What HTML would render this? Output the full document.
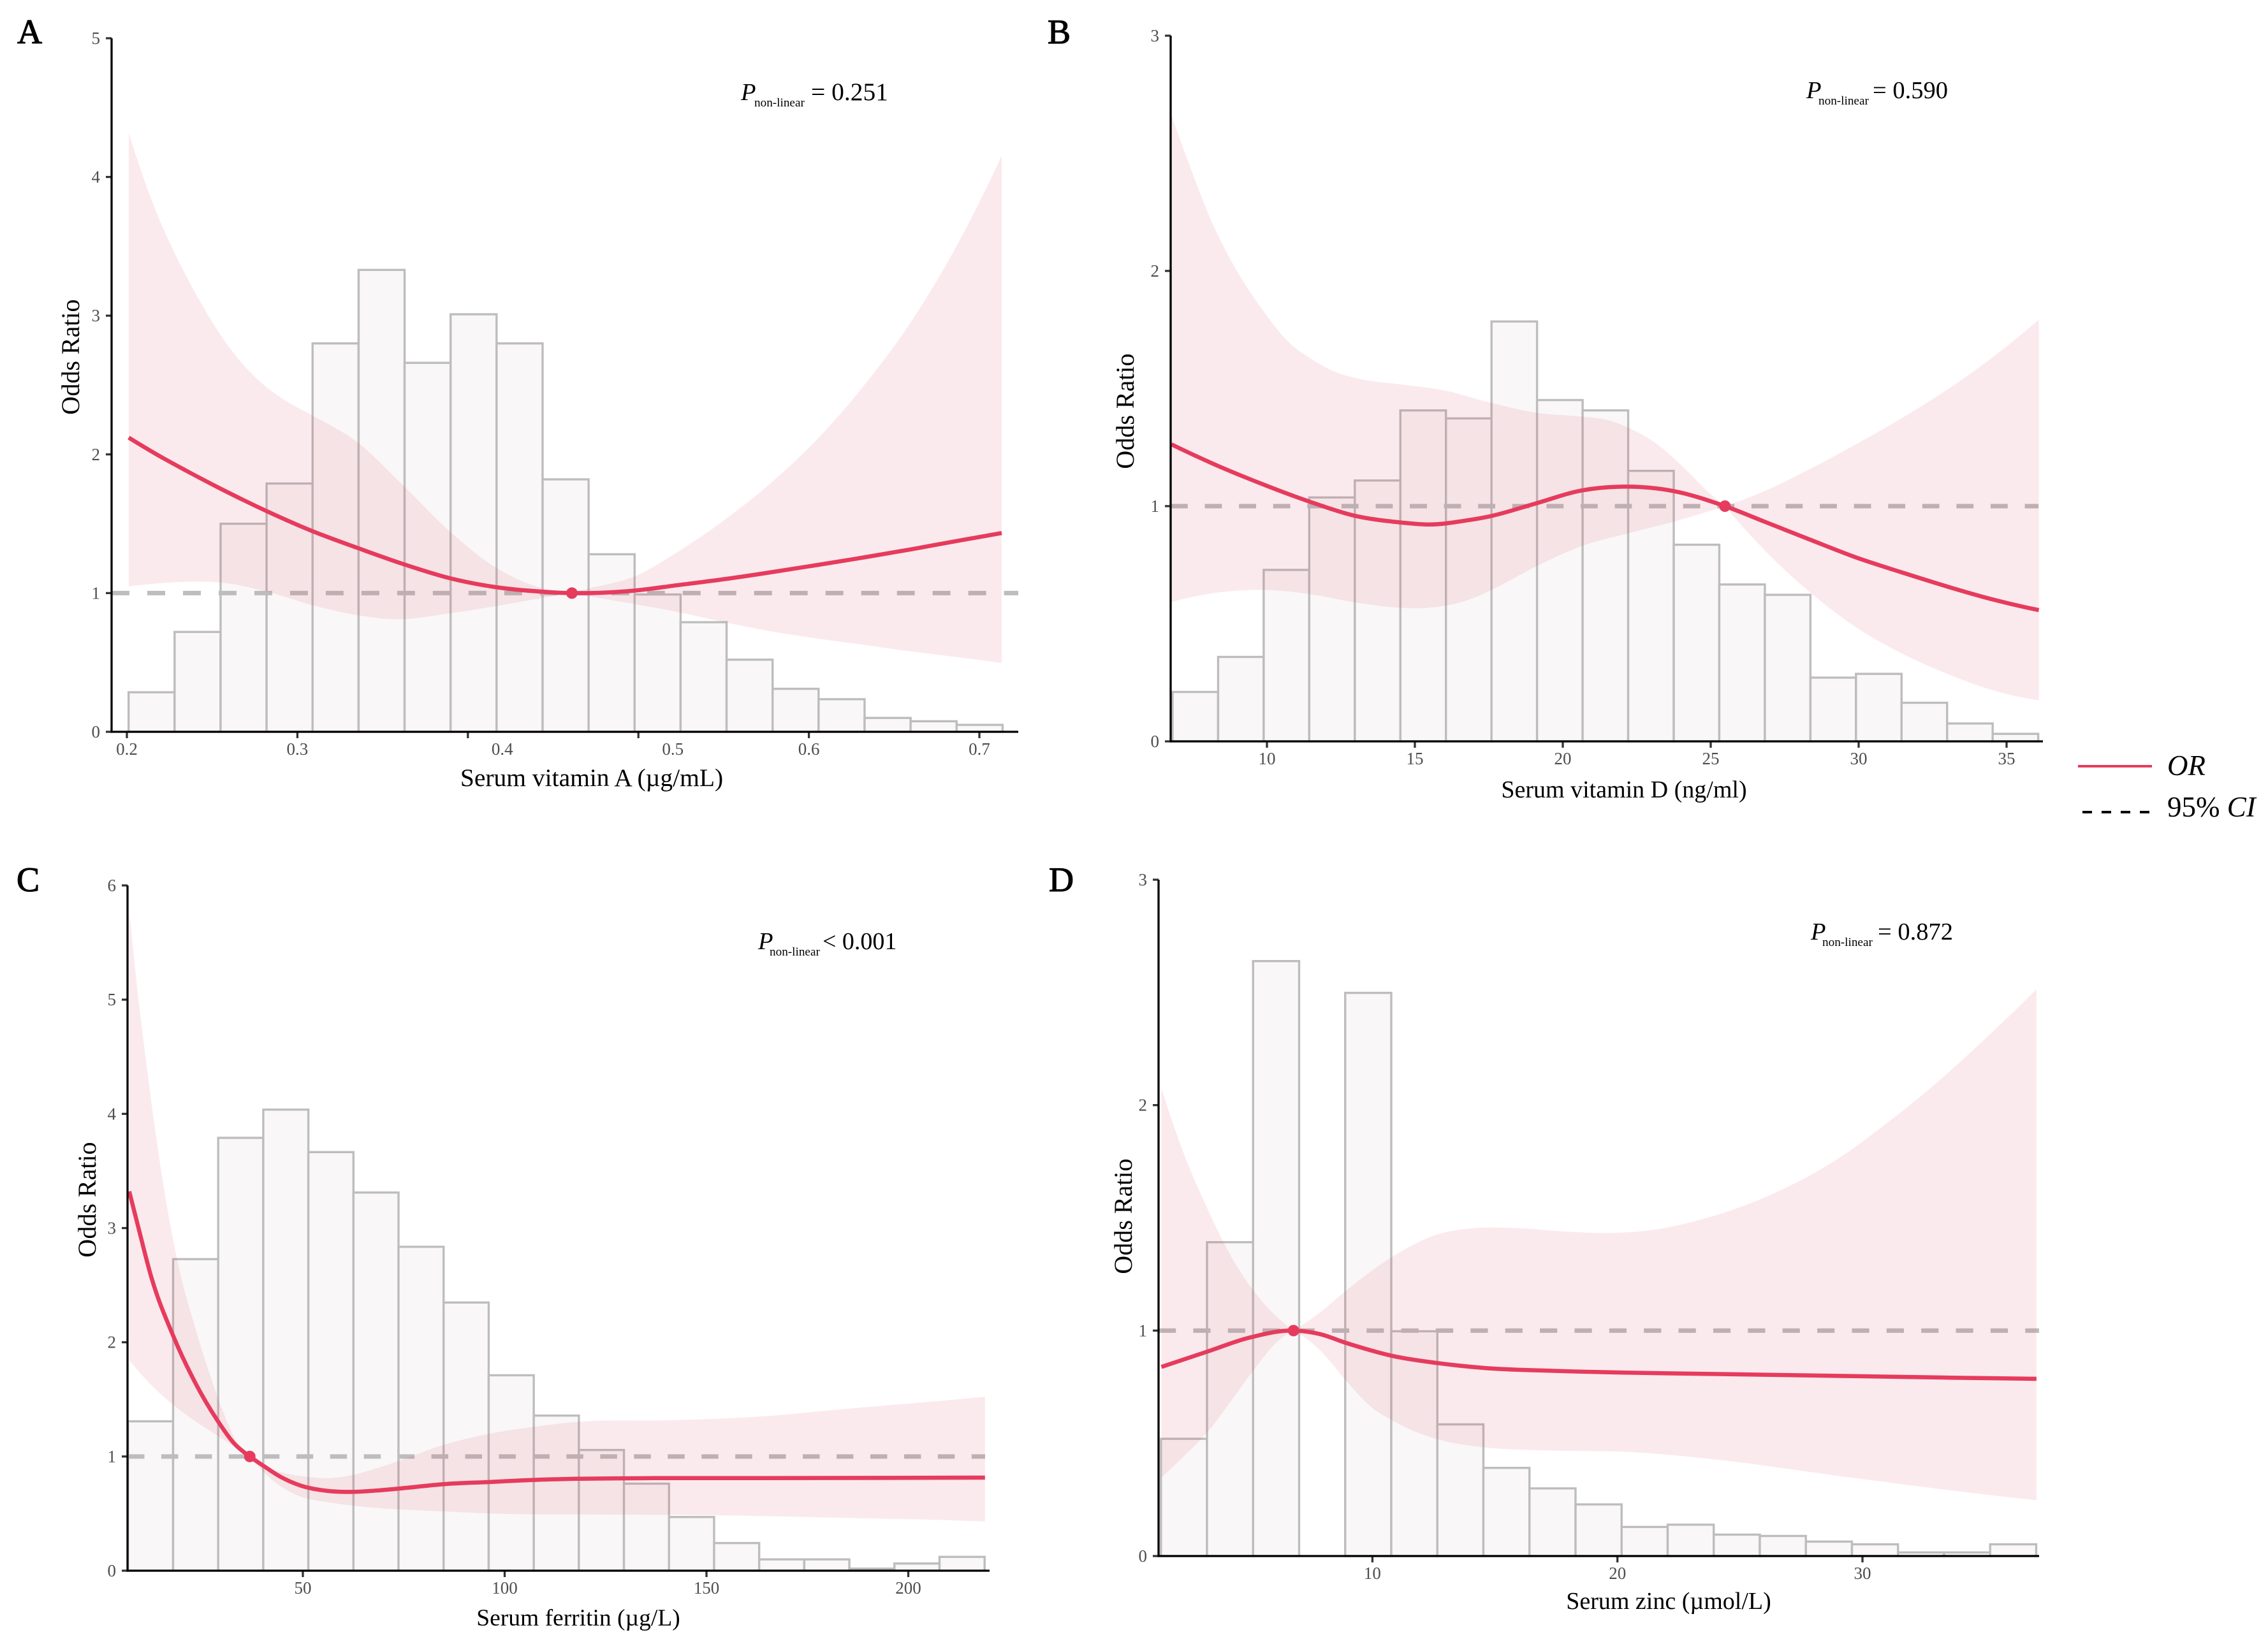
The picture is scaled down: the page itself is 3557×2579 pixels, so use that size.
<!DOCTYPE html>
<html lang="en">
<head>
<meta charset="utf-8">
<title>Restricted cubic spline odds ratio panels</title>
<style>
html,body{margin:0;padding:0;background:#fff;}
svg{display:block;}
text{font-family:"Liberation Serif","Times New Roman",serif;}
.title{fill:#000;text-anchor:middle;}
.ylab{font-size:40px;fill:#000;text-anchor:middle;}
.letter{font-size:54px;fill:#000;stroke:#000;stroke-width:1.2px;}
.p{font-size:38.5px;fill:#000;}
.sub{font-size:19.2px;fill:#000;}
.leg{font-size:45px;fill:#000;}
</style>
</head>
<body>
<svg id="figure" width="3557" height="2579" viewBox="0 0 3557 2579" xmlns="http://www.w3.org/2000/svg">
  <rect x="0" y="0" width="3557" height="2579" fill="#fff"/>
  <g id="panel-a"></g>
  <g id="panel-b"></g>
  <g id="panel-c"></g>
  <g id="panel-d"></g>

  <text class="letter" x="27" y="68">A</text>
  <text class="letter" x="1643" y="68">B</text>
  <text class="letter" x="26" y="1398">C</text>
  <text class="letter" x="1645" y="1398">D</text>

  <text class="title" font-size="39.5" x="928" y="1233">Serum vitamin A (µg/mL)</text>
  <text class="title" font-size="38" x="2547" y="1251">Serum vitamin D (ng/ml)</text>
  <text class="title" font-size="37.5" x="907" y="2550">Serum ferritin (µg/L)</text>
  <text class="title" font-size="38" x="2617" y="2524">Serum zinc (µmol/L)</text>

  <text class="ylab" transform="translate(124,560) rotate(-90)">Odds Ratio</text>
  <text class="ylab" transform="translate(1778,645) rotate(-90)">Odds Ratio</text>
  <text class="ylab" transform="translate(150,1882) rotate(-90)">Odds Ratio</text>
  <text class="ylab" transform="translate(1775,1908) rotate(-90)">Odds Ratio</text>

  <g>
    <text class="p" x="1162" y="157" font-style="italic">P</text>
    <text class="sub" x="1183" y="167">non-linear</text>
    <text class="p" x="1272" y="157" style="font-size:39.5px">= 0.251</text>
  </g>
  <g>
    <text class="p" x="2833" y="154" font-style="italic">P</text>
    <text class="sub" x="2852" y="164">non-linear</text>
    <text class="p" x="2937" y="154">= 0.590</text>
  </g>
  <g>
    <text class="p" x="1189" y="1489" font-style="italic">P</text>
    <text class="sub" x="1207" y="1499">non-linear</text>
    <text class="p" x="1290" y="1489" style="font-size:38px">&lt; 0.001</text>
  </g>
  <g>
    <text class="p" x="2840" y="1474" font-style="italic">P</text>
    <text class="sub" x="2858" y="1484">non-linear</text>
    <text class="p" x="2945" y="1474">= 0.872</text>
  </g>

  <g>
    <line x1="3259" y1="1202" x2="3375" y2="1202" stroke="#e63b5d" stroke-width="4"/>
    <text class="leg" x="3399" y="1216" font-style="italic">OR</text>
    <line x1="3266" y1="1274" x2="3372" y2="1274" stroke="#000" stroke-width="4" stroke-dasharray="15 15"/>
    <text class="leg" x="3399" y="1281">95% <tspan font-style="italic">CI</tspan></text>
  </g>
</svg>

<script>
// ---------- Panel A data ----------
const aHistStart = 0.201;
const aHistWidth = 0.02698;
const aHistHeights = [0.285,0.72,1.50,1.79,2.80,3.33,2.66,3.01,2.80,1.82,1.28,0.99,0.79,0.52,0.31,0.235,0.10,0.076,0.05];
const aOrX = [0.2011,0.2167,0.235,0.2551,0.2818,0.3085,0.3352,0.3619,0.3895,0.4162,0.4437,0.461,0.4976,0.5234,0.5508,0.5783,0.6057,0.6332,0.6607,0.6865,0.7131];
const aOrY = [2.121,2.005,1.881,1.752,1.592,1.448,1.326,1.21,1.107,1.043,1.01,1.0,1.018,1.058,1.101,1.151,1.204,1.259,1.317,1.375,1.433];
const aUpperX = [0.2011,0.2167,0.23,0.2434,0.2567,0.2768,0.2918,0.3085,0.3352,0.3619,0.3895,0.4162,0.4437,0.461,0.4701,0.4976,0.5234,0.5508,0.5783,0.6057,0.6332,0.6607,0.6865,0.7131];
const aUpperY = [4.318,3.764,3.402,3.093,2.829,2.539,2.397,2.283,2.087,1.778,1.443,1.185,1.035,1.0,1.03,1.12,1.30,1.53,1.80,2.12,2.51,2.97,3.50,4.153];
const aLowerX = [0.2011,0.2167,0.235,0.2551,0.2818,0.3085,0.3352,0.3585,0.3895,0.4162,0.4437,0.461,0.4701,0.4976,0.5234,0.5508,0.5783,0.6057,0.6332,0.6607,0.6865,0.7131];
const aLowerY = [1.048,1.068,1.081,1.076,1.012,0.914,0.841,0.811,0.855,0.906,0.965,1.0,0.979,0.921,0.863,0.789,0.723,0.671,0.625,0.578,0.539,0.496];
const aRefX = 0.461;
const aXTicks = [0.2,0.3,0.4,0.5,0.6,0.7];
const aXTickLabels = ["0.2","0.3","0.4","0.5","0.6","0.7"];
const aYTicks = [0,1,2,3,4,5];
const aYTickLabels = ["0","1","2","3","4","5"];

// ---------- Panel B data ----------
const bHistStart = 6.81;
const bHistWidth = 1.54;
const bHistHeights = [0.21,0.359,0.729,1.037,1.109,1.407,1.373,1.785,1.451,1.407,1.15,0.836,0.667,0.623,0.271,0.287,0.164,0.076,0.032];
const bOrX = [6.77,8.31,9.86,11.4,12.94,14.49,15.47,16.79,17.54,19.1,20.65,22.06,23.75,25.48,26.82,28.37,29.91,31.47,33.0,34.54,36.09];
const bOrY = [1.263,1.173,1.093,1.021,0.960,0.931,0.922,0.940,0.957,1.012,1.067,1.083,1.064,1.0,0.934,0.857,0.782,0.718,0.658,0.603,0.558];
const bUpperX = [6.77,7.37,8.12,8.88,9.86,10.76,11.4,12.27,13.21,14.49,16.03,17.54,19.1,20.65,21.5,22.25,23.19,24.13,24.88,25.48,26.82,28.37,29.91,31.47,33.0,34.54,36.09];
const bUpperY = [2.662,2.454,2.213,2.023,1.833,1.694,1.634,1.573,1.539,1.518,1.491,1.44,1.397,1.38,1.366,1.332,1.263,1.159,1.064,1.0,1.064,1.159,1.263,1.375,1.496,1.634,1.793];
const bLowerX = [6.77,8.31,9.86,11.4,12.94,14.49,15.47,16.79,17.54,19.1,20.65,22.25,23.75,25.48,26.82,28.37,29.91,31.47,33.0,34.54,36.09];
const bLowerY = [0.592,0.632,0.644,0.627,0.592,0.568,0.568,0.601,0.641,0.744,0.831,0.886,0.934,1.0,0.813,0.632,0.485,0.373,0.287,0.217,0.174];
const bRefX = 25.48;
const bXTicks = [10,15,20,25,30,35];
const bXTickLabels = ["10","15","20","25","30","35"];
const bYTicks = [0,1,2,3];
const bYTickLabels = ["0","1","2","3"];

// ---------- Panel C data ----------
const cHistStart = 6.68;
const cHistWidth = 11.17;
const cHistHeights = [1.308,2.728,3.79,4.037,3.665,3.311,2.836,2.348,1.711,1.358,1.057,0.762,0.47,0.242,0.099,0.099,0.018,0.063,0.121];
const cOrX = [6.98,9.4,12.42,17.86,23.3,28.75,32.98,36.85,40.23,44.46,49.3,56.56,62,69.25,73.8,85,95.85,107.36,118.49,140.75,163.18,185.45,219.0];
const cOrY = [3.321,2.983,2.574,2.057,1.648,1.32,1.114,1.0,0.918,0.822,0.747,0.697,0.69,0.705,0.719,0.758,0.776,0.795,0.805,0.811,0.811,0.812,0.815];
const cUpperX = [6.98,8.79,11.21,13.63,16.65,19.68,23.3,26.93,29.95,32.98,36.85,40.23,45.07,51.12,57.16,62.6,68.65,73.8,84.37,95.85,107.36,118.49,140.75,163.18,185.45,207.88,219.0];
const cUpperY = [5.795,5.155,4.443,3.802,3.125,2.591,2.129,1.719,1.417,1.167,1.0,0.918,0.858,0.822,0.811,0.84,0.9,0.961,1.096,1.196,1.26,1.304,1.317,1.349,1.42,1.487,1.523];
const cLowerX = [6.98,11.82,17.86,23.3,28.75,32.98,36.85,40.23,44.46,49.3,56.56,62.6,73.8,85,95.85,118.49,140.75,163.18,185.45,207.88,219.0];
const cLowerY = [1.844,1.648,1.452,1.31,1.185,1.089,1.0,0.865,0.74,0.651,0.598,0.569,0.537,0.519,0.502,0.492,0.489,0.479,0.461,0.444,0.43];
const cRefX = 36.85;
const cXTicks = [50,100,150,200];
const cXTickLabels = ["50","100","150","200"];
const cYTicks = [0,1,2,3,4,5,6];
const cYTickLabels = ["0","1","2","3","4","5","6"];

// ---------- Panel D data ----------
const dHistStart = 1.37;
const dHistWidth = 1.88;
const dHistHeights = [0.52,1.392,2.639,0,2.498,0.997,0.584,0.391,0.30,0.229,0.129,0.139,0.095,0.089,0.064,0.052,0.016,0.016,0.052];
const dOrX = [1.39,3.27,4.92,6.78,7.83,8.99,10.8,12.66,14.57,16.89,19.68,24.33,28.97,33.62,37.1];
const dOrY = [0.839,0.907,0.967,1.0,0.985,0.943,0.888,0.856,0.834,0.823,0.815,0.807,0.799,0.791,0.786];
const dUpperX = [1.39,2.25,3.27,4.23,5.16,6.09,6.78,7.83,8.99,10.8,12.66,14.1,15.96,17.82,19.68,21.54,23.39,25.25,27.11,28.97,30.83,32.69,34.78,37.1];
const dUpperY = [2.076,1.80,1.54,1.329,1.175,1.062,1.0,1.078,1.183,1.326,1.427,1.454,1.454,1.44,1.433,1.448,1.492,1.557,1.646,1.76,1.906,2.068,2.271,2.514];
const dLowerX = [1.39,2.25,3.27,4.23,5.16,6.09,6.78,7.83,8.99,9.92,10.8,12.66,14.57,16.89,20.61,24.33,28.97,33.62,37.1];
const dLowerY = [0.348,0.437,0.55,0.688,0.826,0.948,1.0,0.916,0.77,0.664,0.602,0.518,0.482,0.469,0.461,0.424,0.356,0.291,0.247];
const dRefX = 6.78;
const dXTicks = [10,20,30];
const dXTickLabels = ["10","20","30"];
const dYTicks = [0,1,2,3];
const dYTickLabels = ["0","1","2","3"];

// ---------- Drawing ----------
const SVGNS = "http://www.w3.org/2000/svg";

function mk(parent, tag, attrs) {
  const el = document.createElementNS(SVGNS, tag);
  for (const k in attrs) el.setAttribute(k, attrs[k]);
  parent.appendChild(el);
  return el;
}

// Hermite spline through (px,py) as y(x) with non-uniform parabolic tangents.
function hermiteSegs(px, py) {
  const n = px.length;
  if (n < 2) return "";
  const h = [], s = [], m = [];
  for (let i = 0; i < n - 1; i++) {
    h.push(px[i + 1] - px[i]);
    s.push((py[i + 1] - py[i]) / h[i]);
  }
  for (let i = 0; i < n; i++) {
    if (n === 2) m.push(s[0]);
    else if (i === 0) m.push(s[0] + (s[0] - s[1]) * h[0] / (h[0] + h[1]));
    else if (i === n - 1) m.push(s[n - 2] + (s[n - 2] - s[n - 3]) * h[n - 2] / (h[n - 2] + h[n - 3]));
    else m.push((h[i] * s[i - 1] + h[i - 1] * s[i]) / (h[i - 1] + h[i]));
  }
  let d = "";
  for (let i = 0; i < n - 1; i++) {
    d += "C" + (px[i] + h[i] / 3).toFixed(1) + " " + (py[i] + m[i] * h[i] / 3).toFixed(1) + " " +
      (px[i + 1] - h[i] / 3).toFixed(1) + " " + (py[i + 1] - m[i + 1] * h[i] / 3).toFixed(1) + " " +
      px[i + 1].toFixed(1) + " " + py[i + 1].toFixed(1);
  }
  return d;
}

// breakX: data x at which the curve has a true cusp (band pinch at the reference value).
function curve(xs, ys, xf, yf, start, breakX) {
  const px = xs.map(xf), py = ys.map(yf);
  let d = (start ? "M" : "L") + px[0].toFixed(1) + " " + py[0].toFixed(1);
  const k = breakX === undefined ? -1 : xs.indexOf(breakX);
  if (k > 0 && k < xs.length - 1) {
    d += hermiteSegs(px.slice(0, k + 1), py.slice(0, k + 1));
    d += hermiteSegs(px.slice(k), py.slice(k));
  } else {
    d += hermiteSegs(px, py);
  }
  return d;
}

function drawPanel(id, frame, hist, or, upper, lower, refX, xTicks, xTickLabels, yTicks, yTickLabels) {
  const g = document.getElementById(id);
  const xf = v => frame.px0 + (v - frame.v0) * (frame.px1 - frame.px0) / (frame.v1 - frame.v0);
  const yf = v => frame.bottom - v * (frame.bottom - frame.top) / frame.yMax;

  hist.heights.forEach((h, i) => {
    if (h <= 0) return;
    const bar = mk(g, "rect", {
      x: xf(hist.start + i * hist.width),
      y: yf(h),
      width: xf(hist.start + (i + 1) * hist.width) - xf(hist.start + i * hist.width),
      height: yf(0) - yf(h),
      fill: "#f9f7f8",
      stroke: "#bdbdbd",
      "stroke-width": 3.4
    });
    
    
  });

  const dashPeriod = (frame.refEnd - frame.left) / 25.4;
  const ref = mk(g, "line", {
    x1: frame.left, x2: frame.refEnd, y1: yf(1), y2: yf(1),
    stroke: "#bdbdbd", "stroke-width": 7, "stroke-dasharray": (dashPeriod / 2) + " " + (dashPeriod / 2)
  });
  
  

  const revX = lower.x.slice().reverse(), revY = lower.y.slice().reverse();
  const band = mk(g, "path", {
    d: curve(upper.x, upper.y, xf, yf, true, refX) + curve(revX, revY, xf, yf, false, refX) + "Z",
    fill: "rgb(220,70,100)", "fill-opacity": 0.115, stroke: "none"
  });
  
  

  const line = mk(g, "path", {
    d: curve(or.x, or.y, xf, yf, true),
    fill: "none", stroke: "#e63b5d", "stroke-width": 6.5, "stroke-linejoin": "round"
  });
  
  

  const dot = mk(g, "circle", { cx: xf(refX), cy: yf(1), r: 9, fill: "#e63b5d" });
  
  

  xTicks.forEach((t, i) => {
    const tick = mk(g, "line", { x1: xf(t), x2: xf(t), y1: frame.bottom, y2: frame.bottom + 10, stroke: "#333", "stroke-width": 3.3 });
    
    
    const nudge = (frame.labelNudge && frame.labelNudge[i]) || 0;
    const lab = mk(g, "text", { x: xf(t) + nudge, y: frame.bottom + 36, "text-anchor": "middle", "font-size": 27, fill: "#4d4d4d" });
    lab.textContent = xTickLabels[i];
    
    
  });

  yTicks.forEach((t, i) => {
    const tick = mk(g, "line", { x1: frame.left - 9, x2: frame.left, y1: yf(t), y2: yf(t), stroke: "#333", "stroke-width": 3.3 });
    
    
    const lab = mk(g, "text", { x: frame.left - 18, y: yf(t) + 9, "text-anchor": "end", "font-size": 27, fill: "#4d4d4d" });
    lab.textContent = yTickLabels[i];
    
    
  });

  const yAxis = mk(g, "line", { x1: frame.left, x2: frame.left, y1: frame.top, y2: frame.bottom + 1.6, stroke: "#000", "stroke-width": 3.3 });
  
  
  const xAxis = mk(g, "line", { x1: frame.left, x2: frame.right, y1: frame.bottom, y2: frame.bottom, stroke: "#000", "stroke-width": 3.3 });
  
  
}

drawPanel("panel-a",
  { left: 175, right: 1597, refEnd: 1597, top: 60, bottom: 1148, yMax: 5, v0: 0.2, v1: 0.7, px0: 199, px1: 1536, labelNudge: { 2: 54, 3: 54 } },
  { start: aHistStart, width: aHistWidth, heights: aHistHeights },
  { x: aOrX, y: aOrY }, { x: aUpperX, y: aUpperY }, { x: aLowerX, y: aLowerY },
  aRefX, aXTicks, aXTickLabels, aYTicks, aYTickLabels);

drawPanel("panel-b",
  { left: 1836, right: 3204, refEnd: 3197, top: 56, bottom: 1163, yMax: 3, v0: 10, v1: 35, px0: 1987, px1: 3147 },
  { start: bHistStart, width: bHistWidth, heights: bHistHeights },
  { x: bOrX, y: bOrY }, { x: bUpperX, y: bUpperY }, { x: bLowerX, y: bLowerY },
  bRefX, bXTicks, bXTickLabels, bYTicks, bYTickLabels);

drawPanel("panel-c",
  { left: 200, right: 1552, refEnd: 1545, top: 1389, bottom: 2464, yMax: 6, v0: 50, v1: 200, px0: 475, px1: 1424.5 },
  { start: cHistStart, width: cHistWidth, heights: cHistHeights },
  { x: cOrX, y: cOrY }, { x: cUpperX, y: cUpperY }, { x: cLowerX, y: cLowerY },
  cRefX, cXTicks, cXTickLabels, cYTicks, cYTickLabels);

drawPanel("panel-d",
  { left: 1817, right: 3198, refEnd: 3198, top: 1380, bottom: 2441, yMax: 3, v0: 10, v1: 30, px0: 2152.4, px1: 2921 },
  { start: dHistStart, width: dHistWidth, heights: dHistHeights },
  { x: dOrX, y: dOrY }, { x: dUpperX, y: dUpperY }, { x: dLowerX, y: dLowerY },
  dRefX, dXTicks, dXTickLabels, dYTicks, dYTickLabels);
</script>
</body>
</html>
